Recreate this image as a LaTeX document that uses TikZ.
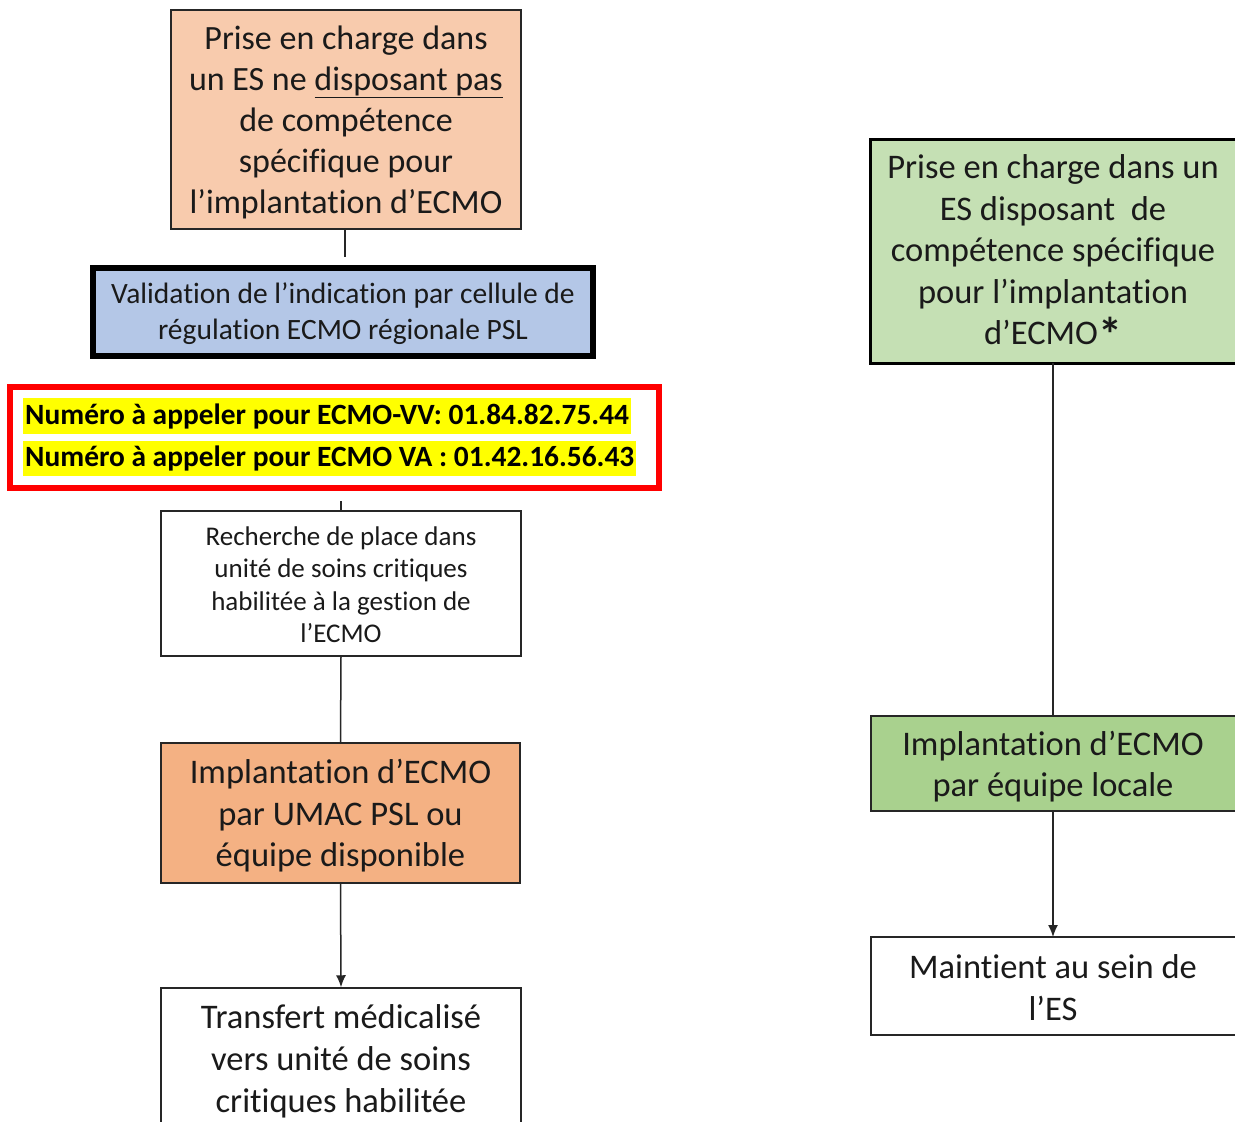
\documentclass[tikz,border=0pt]{standalone}
\usepackage{fontspec}
\setmainfont{Carlito}[Ligatures=NoCommon]
\usetikzlibrary{arrows.meta}
\definecolor{peach}{HTML}{F8CBAD}
\definecolor{orangebox}{HTML}{F4B183}
\definecolor{bluebox}{HTML}{B4C7E7}
\definecolor{greenlight}{HTML}{C5E0B4}
\definecolor{greenbox}{HTML}{A9D18E}
\definecolor{txt}{HTML}{1A1A1A}
\definecolor{hl}{HTML}{FFFF00}
\definecolor{redframe}{HTML}{FF0000}
\tikzset{
  box/.style={draw=black!85, line width=1.5pt, inner sep=0pt},
  label text/.style={align=center, text=txt, inner sep=0pt},
  big/.style={font=\fontsize{34.5}{41.5}\selectfont},
  conn/.style={draw=black!85, line width=1.5pt},
  arr/.style={conn, -{Latex[length=12pt,width=10pt]}},
  hlline/.style={fill=hl, anchor=west, inner xsep=2pt, inner ysep=0pt, minimum height=36pt, text=black,
    font=\fontsize{29.4}{33}\selectfont\bfseries}
}
\begin{document}
\begin{tikzpicture}[x=1pt,y=-1pt]
\useasboundingbox (0,0) rectangle (1235,1122);
\clip (0,0) rectangle (1235,1122);
\fill[white] (0,0) rectangle (1235,1122);

% left column
\node[box, fill=peach, minimum width=350pt, minimum height=219pt] (top) at (346,119.5) {};
\node[label text, font=\fontsize{34}{41}\selectfont] (toptext) at ([yshift=-3pt]top.center)
  {Prise en charge dans\\ un ES ne \underline{disposant pas}\\ de compétence\\ spécifique pour\\ l’implantation d’ECMO};

\node[box, draw=black, line width=6pt, fill=bluebox, minimum width=500pt, minimum height=88pt] (valid) at (343,312) {};
\node[label text, font=\fontsize{29.5}{36}\selectfont] (validtext) at ([yshift=-2pt]valid.center)
  {Validation de l’indication par cellule de\\ régulation ECMO régionale PSL};

\node[draw=redframe, line width=6pt, fill=white, minimum width=649pt, minimum height=101pt, inner sep=0pt] (red) at (334.5,437.5) {};
\node[hlline] (num1) at (23,416) {Numéro à appeler pour ECMO-VV: 01.84.82.75.44};
\node[hlline, minimum height=35pt] (num2) at (23,458.5) {Numéro à appeler pour ECMO VA : 01.42.16.56.43};

\node[box, fill=white, minimum width=360pt, minimum height=145pt] (rech) at (341,583.5) {};
\node[label text, font=\fontsize{27}{32.5}\selectfont] (rechtext) at ([yshift=-1pt]rech.center)
  {Recherche de place dans\\ unité de soins critiques\\ habilitée à la gestion de\\ l’ECMO};

\node[box, fill=orangebox, minimum width=359pt, minimum height=140pt] (impl) at (340.5,813) {};
\node[label text, big] (impltext) at ([yshift=-3pt]impl.center)
  {Implantation d’ECMO\\ par UMAC PSL ou\\ équipe disponible};

\node[box, fill=white, minimum width=360pt, minimum height=140pt] (transf) at (341,1058) {};
\node[label text, font=\fontsize{34.5}{42}\selectfont] (transftext) at ([yshift=-3pt]transf.center)
  {Transfert médicalisé\\ vers unité de soins\\ critiques habilitée};

\coordinate (topstub) at (345,257);
\coordinate (redstub) at (341,501);
\draw[conn] (345,229) -- (topstub);
\draw[conn] (redstub) -- (rech.north);
\draw[conn] (rech.south) -- (impl.north);
\draw[arr] (impl.south) -- (transf.north);

% right column
\node[box, draw=black, line width=3pt, fill=greenlight, minimum width=370pt, minimum height=224pt] (rtop) at (1055,251) {};
\node[label text, big] (rtoptext) at (1053,250)
  {Prise en charge dans un\\ ES disposant\ \ de\\ compétence spécifique\\ pour l’implantation\\ d’ECMO\raisebox{-7pt}[0pt][0pt]{\fontsize{48}{48}\selectfont\bfseries *}};

\node[box, fill=greenbox, minimum width=368pt, minimum height=95pt] (rimpl) at (1055,763.5) {};
\node[label text, font=\fontsize{34.5}{41}\selectfont] (rimpltext) at (1053,767)
  {Implantation d’ECMO\\ par équipe locale};

\node[box, fill=white, minimum width=368pt, minimum height=98pt] (maint) at (1055,986) {};
\node[label text, font=\fontsize{34.5}{42}\selectfont] (mainttext) at (1053,988)
  {Maintient au sein de\\ l’ES};

\coordinate (rtopbot) at (1053,363);
\coordinate (rimpltop) at (1053,716);
\coordinate (rimplbot) at (1053,811);
\coordinate (mainttop) at (1053,937);
\draw[conn] (rtopbot) -- (rimpltop);
\draw[arr] (rimplbot) -- (mainttop);
\end{tikzpicture}
\end{document}
